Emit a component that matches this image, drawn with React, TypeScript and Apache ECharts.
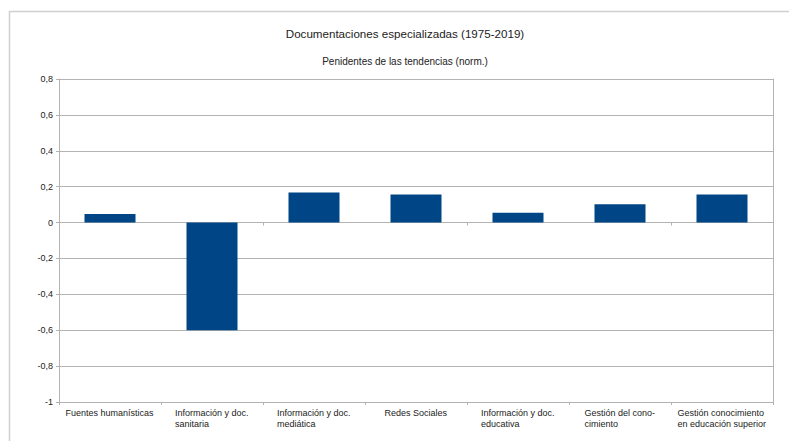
import React, { useEffect, useRef } from "react";
import * as echarts from "echarts";

const categories = [
  "Fuentes humanísticas",
  "Información y doc.\nsanitaria",
  "Información y doc.\nmediática",
  "Redes Sociales",
  "Información y doc.\neducativa",
  "Gestión del cono-\ncimiento",
  "Gestión conocimiento\nen educación superior",
];
const values = [0.047, -0.6, 0.168, 0.157, 0.054, 0.102, 0.157];
const yMin = -1;
const yMax = 0.8;
const yStep = 0.2;
const titleText = "Documentaciones especializadas (1975-2019)";
const subtitleText = "Penidentes de las tendencias (norm.)";

const FONT = '"Liberation Sans", Arial, sans-serif';
const TEXT = "#222222";
const GRID = "#b3b3b3";

export default function App() {
  const ref = useRef<HTMLDivElement>(null);
  useEffect(() => {
    document.body.style.margin = "0";
    if (!ref.current) return;
    const chart = echarts.init(ref.current, undefined, { renderer: "svg" });

    const canvas = document.createElement("canvas");
    const ctx = canvas.getContext("2d")!;
    ctx.font = `9px ${FONT}`;
    const rich: Record<string, any> = {};
    categories.forEach((c, i) => {
      const w = Math.max(...c.split("\n").map((l) => ctx.measureText(l).width));
      rich["l" + i] = {
        width: Math.ceil(w),
        align: "left",
        fontSize: 9,
        lineHeight: 11,
        fontFamily: FONT,
        color: TEXT,
      };
    });

    chart.setOption({
      animation: false,
      backgroundColor: "#ffffff",
      textStyle: { fontFamily: FONT },
      grid: { left: 59, right: 16, top: 79, bottom: 39, containLabel: false },
      graphic: [
        {
          type: "rect",
          shape: { x: 9.5, y: 11.5, width: 820, height: 460 },
          style: { fill: "none", stroke: "#d0d0d0", lineWidth: 1.5 },
          silent: true,
          z: -1,
        },
        {
          type: "text",
          x: 405,
          y: 33,
          style: {
            text: titleText,
            fontSize: 11.6,
            fontFamily: FONT,
            fill: TEXT,
            textAlign: "center",
            textVerticalAlign: "middle",
          },
        },
        {
          type: "text",
          x: 405,
          y: 61,
          style: {
            text: subtitleText,
            fontSize: 10,
            fontFamily: FONT,
            fill: TEXT,
            textAlign: "center",
            textVerticalAlign: "middle",
          },
        },
      ],
      xAxis: [
        {
          type: "category",
          data: categories,
          position: "bottom",
          axisLine: { onZero: true, lineStyle: { color: GRID, width: 1 } },
          axisTick: { show: true, length: 3, lineStyle: { color: GRID } },
          axisLabel: { show: false },
          splitLine: { show: false },
        },
        {
          type: "category",
          data: categories,
          position: "bottom",
          axisLine: { onZero: false, show: true, lineStyle: { color: GRID, width: 1 } },
          axisTick: { show: true, length: 3, lineStyle: { color: GRID } },
          axisLabel: {
            show: true,
            interval: 0,
            margin: 5,
            formatter: (v: string, i: number) =>
              v
                .split("\n")
                .map((l) => `{l${i}|${l}}`)
                .join("\n"),
            rich,
          },
          splitLine: { show: false },
        },
      ],
      yAxis: [
        {
          type: "value",
          min: yMin,
          max: yMax,
          interval: yStep,
          axisLine: { show: true, lineStyle: { color: GRID, width: 1 } },
          axisTick: { show: true, length: 3, lineStyle: { color: GRID } },
          axisLabel: {
            fontSize: 9,
            color: TEXT,
            fontFamily: FONT,
            margin: 6,
            formatter: (v: number) =>
              Math.abs(v) < 1e-9 ? "0" : String(Number(v.toFixed(1))).replace(".", ","),
          },
          splitLine: { show: true, lineStyle: { color: GRID, width: 1 } },
        },
        {
          type: "value",
          min: yMin,
          max: yMax,
          interval: yStep,
          position: "right",
          axisLine: { show: true, lineStyle: { color: GRID, width: 1 } },
          axisTick: { show: false },
          axisLabel: { show: false },
          splitLine: { show: false },
        },
      ],
      series: [
        {
          type: "bar",
          data: values,
          xAxisIndex: 0,
          yAxisIndex: 0,
          barWidth: "50%",
          itemStyle: { color: "#004586" },
          z: 3,
        },
      ],
    });
    return () => chart.dispose();
  }, []);
  return <div ref={ref} style={{ width: 789, height: 441 }} />;
}
